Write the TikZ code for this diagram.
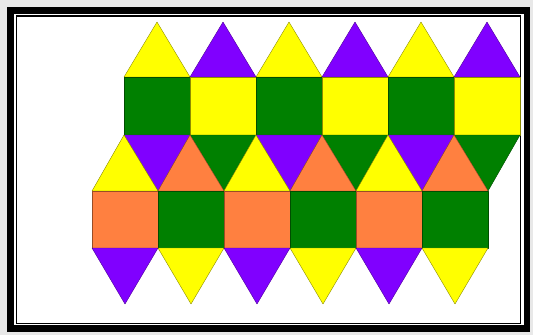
\documentclass[tikz,border=0pt]{standalone}
\usepackage{xcolor}
\usepackage{tikz}
\definecolor{tileyellow}{RGB}{255,255,0}
\definecolor{tilepurple}{RGB}{128,0,255}
\definecolor{tilegreen}{RGB}{0,128,0}
\definecolor{tileorange}{RGB}{255,128,64}
\definecolor{pagegray}{RGB}{232,232,232}
\tikzset{
  tile/.style={line width=0.4pt, line join=round},
  yellowtile/.style={tile, fill=tileyellow, draw=tileyellow!55!black},
  purpletile/.style={tile, fill=tilepurple, draw=tilepurple!60!black},
  greentile/.style={tile, fill=tilegreen, draw=tilegreen!60!black},
  orangetile/.style={tile, fill=tileorange, draw=tileorange!60!black},
  outerframe/.style={draw=black, line width=6.5pt},
  innerframe/.style={draw=black, line width=1.2pt},
}
\begin{document}
\begin{tikzpicture}[x=1pt, y=-1pt]
  \useasboundingbox (0,0) rectangle (533,335);
  \fill[pagegray] (0,0) rectangle (533,335);
  \draw[outerframe, fill=white] (10.5,10.5) rectangle (527,328.5);
  \draw[innerframe] (16.5,16) rectangle (520.5,323.5);

  \foreach \i/\topsq/\toptri in {0/greentile/yellowtile, 1/yellowtile/purpletile,
      2/greentile/yellowtile, 3/yellowtile/purpletile,
      4/greentile/yellowtile, 5/yellowtile/purpletile} {
    \begin{scope}[xshift={66*\i}]
      \draw[\toptri] (124,77) -- (157,22) -- (190,77) -- cycle;
      \draw[\topsq] (124,77) rectangle (190,135);
    \end{scope}
  }

  \foreach \i/\uptri/\downtri in {0/yellowtile/purpletile, 1/orangetile/greentile,
      2/yellowtile/purpletile, 3/orangetile/greentile,
      4/yellowtile/purpletile, 5/orangetile/greentile} {
    \begin{scope}[xshift={66*\i}]
      \draw[\downtri] (124,135) -- (190,135) -- (158,191) -- cycle;
      \draw[\uptri] (92,191) -- (124,135) -- (158,191) -- cycle;
    \end{scope}
  }

  \foreach \i/\botsq/\bottri in {0/orangetile/purpletile, 1/greentile/yellowtile,
      2/orangetile/purpletile, 3/greentile/yellowtile,
      4/orangetile/purpletile, 5/greentile/yellowtile} {
    \begin{scope}[xshift={66*\i}]
      \draw[\botsq] (92,191) rectangle (158,248);
      \draw[\bottri] (92,248) -- (125,304) -- (158,248) -- cycle;
    \end{scope}
  }
\end{tikzpicture}
\end{document}
